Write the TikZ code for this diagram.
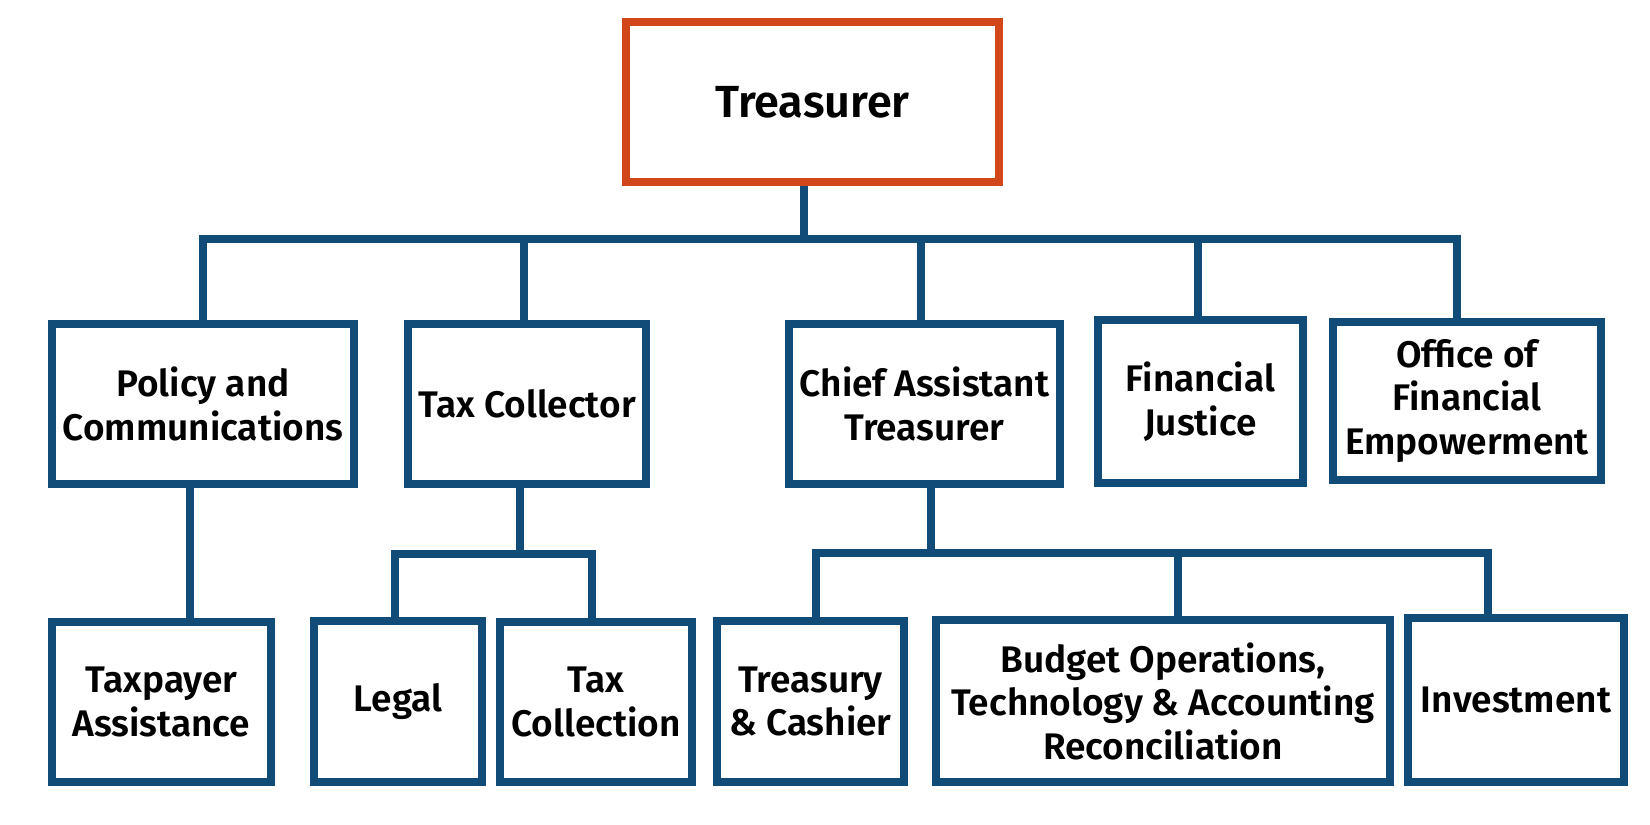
\documentclass[tikz,border=0pt]{standalone}
\usepackage{fontspec}
\setmainfont{Fira Sans SemiBold}
\definecolor{navy}{HTML}{114B78}
\definecolor{rust}{HTML}{D2471A}
\begin{document}
\begin{tikzpicture}[x=1pt,y=-1pt,
  box/.style={draw=navy, line width=8pt, fill=white, align=center, inner sep=0pt,
    font=\fontsize{37}{43.5}\selectfont, text=black},
  topbox/.style={box, draw=rust, font=\fontsize{45}{54}\selectfont},
  conn/.style={draw=navy, line width=7.5pt, line join=miter}]
\useasboundingbox[fill=white] (0,0) rectangle (1650,825);

% top level
\node[topbox, minimum width=373pt, minimum height=160pt] (treas) at (812.5,102) {Treasurer};

% second level
\node[box, minimum width=302pt, minimum height=160pt] (policy) at (203,404) {Policy and\\Communications};
\node[box, minimum width=238pt, minimum height=160pt] (taxcol) at (527,404) {Tax Collector};
\node[box, minimum width=271pt, minimum height=160pt] (chief) at (924.5,404) {Chief Assistant\\Treasurer};
\node[box, minimum width=205pt, minimum height=163pt] (finj) at (1200.5,401.5) {Financial\\Justice};
\node[box, minimum width=268pt, minimum height=158pt] (ofe) at (1467,401) {Office of\\Financial\\Empowerment};

% third level
\node[box, minimum width=219pt, minimum height=160pt] (taxpayer) at (161.5,702) {Taxpayer\\Assistance};
\node[box, minimum width=168pt, minimum height=161pt] (legal) at (398,701.5) {Legal};
\node[box, minimum width=192pt, minimum height=160pt] (taxcoll) at (596,702) {Tax\\Collection};
\node[box, minimum width=187pt, minimum height=161pt] (treasury) at (810.5,701.5) {Treasury\\\& Cashier};
\node[box, minimum width=454pt, minimum height=162pt] (budget) at (1163,701) {Budget Operations,\\Technology \& Accounting\\Reconciliation};
\node[box, minimum width=216pt, minimum height=164pt] (invest) at (1516,700) {Investment};

% junction coordinates
\coordinate (j0) at (804,239);
\coordinate (jL) at (203,239);
\coordinate (jR) at (1457,239);
\coordinate (j2) at (524,239);
\coordinate (j3) at (921,239);
\coordinate (j4) at (1198,239);

\coordinate (p0) at (190,550);
\coordinate (k0) at (520,554);
\coordinate (kL) at (395,554);
\coordinate (kR) at (592,554);

\coordinate (c0) at (931,553);
\coordinate (cL) at (816,553);
\coordinate (cM) at (1178,553);
\coordinate (cR) at (1488,553);

% level 1 -> 2
\draw[conn] (treas.south -| j0) -- (j0);
\draw[conn] (policy.north -| jL) |- (jR) -- (ofe.north -| jR);
\draw[conn] (taxcol.north -| j2) -- (j2);
\draw[conn] (chief.north -| j3) -- (j3);
\draw[conn] (finj.north -| j4) -- (j4);

% policy -> taxpayer
\draw[conn] (policy.south -| p0) -- (taxpayer.north -| p0);

% tax collector -> legal, tax collection
\draw[conn] (taxcol.south -| k0) -- (k0);
\draw[conn] (legal.north -| kL) |- (kR) -- (taxcoll.north -| kR);

% chief -> treasury, budget, investment
\draw[conn] (chief.south -| c0) -- (c0);
\draw[conn] (treasury.north -| cL) |- (cR) -- (invest.north -| cR);
\draw[conn] (budget.north -| cM) -- (cM);
\end{tikzpicture}
\end{document}
